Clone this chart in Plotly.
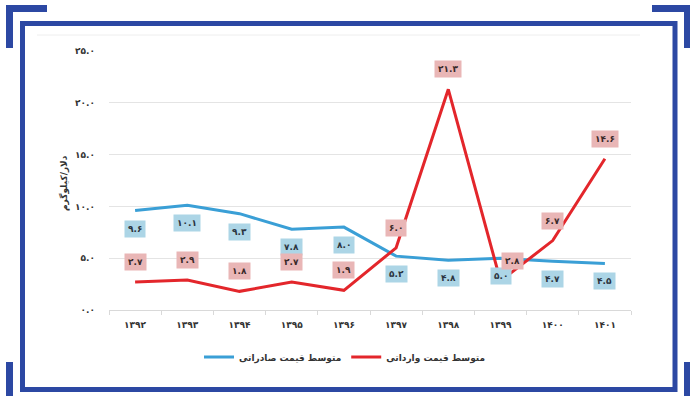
import plotly.graph_objects as go

# Persian year categories and average prices (USD per kg)
years = ["۱۳۹۲", "۱۳۹۳", "۱۳۹۴", "۱۳۹۵", "۱۳۹۶", "۱۳۹۷", "۱۳۹۸", "۱۳۹۹", "۱۴۰۰", "۱۴۰۱"]
export_price = [9.6, 10.1, 9.3, 7.8, 8.0, 5.2, 4.8, 5.0, 4.7, 4.5]
import_price = [2.7, 2.9, 1.8, 2.7, 1.9, 6.0, 21.3, 2.8, 6.7, 14.6]
y_ticks = [0, 5, 10, 15, 20, 25]
export_name = "متوسط قیمت صادراتی"
import_name = "متوسط قیمت وارداتی"
y_title = "دلار/کیلوگرم"

FA_DIGITS = str.maketrans("0123456789", "۰۱۲۳۴۵۶۷۸۹")


def fa(v):
    return f"{v:.1f}".translate(FA_DIGITS)


W, H = 690, 396
ML, MR, MT, MB = 109, 59, 51, 86
PW, PH = W - ML - MR, H - MT - MB


def px(x):
    return (x - ML) / PW


def py(y):
    return (H - MB - y) / PH


FONT = "DejaVu Sans"
BLUE = "#3a9fd6"
RED = "#e3262b"
NAVY = "#2c48a3"

fig = go.Figure()
fig.add_trace(go.Scatter(x=years, y=export_price, mode="lines", name=export_name,
                         line=dict(color=BLUE, width=3)))
fig.add_trace(go.Scatter(x=years, y=import_price, mode="lines", name=import_name,
                         line=dict(color=RED, width=3)))

annotations = []
for i, (yr, v) in enumerate(zip(years, export_price)):
    annotations.append(dict(x=yr, y=v, text=fa(v), showarrow=False, yshift=-18,
                            bgcolor="#acd5e6", borderpad=3,
                            font=dict(family=FONT, size=9, color="#2b3440", weight="bold")))
for i, (yr, v) in enumerate(zip(years, import_price)):
    xs = 12 if i == 7 else 0
    annotations.append(dict(x=yr, y=v, text=fa(v), showarrow=False, yshift=20, xshift=xs,
                            bgcolor="#e9b6b6", borderpad=3,
                            font=dict(family=FONT, size=9, color="#3a2a2a", weight="bold")))
annotations.append(dict(xref="paper", yref="paper", x=px(56), y=py(183), text=y_title,
                        textangle=-90, showarrow=False,
                        font=dict(family=FONT, size=9, color="#333333", weight="bold")))

shapes = []
# faint chart-area top edge
shapes.append(dict(type="line", xref="paper", yref="paper", x0=px(37), x1=px(640),
                   y0=py(35), y1=py(35), line=dict(color="#eeeeee", width=1)))
# main frame
shapes.append(dict(type="rect", xref="paper", yref="paper", x0=px(22.5), x1=px(675),
                   y0=py(23.5), y1=py(389.5), line=dict(color=NAVY, width=5)))
# corner brackets
for (x0, y0, x1, y1) in [(6, 5, 47, 12), (6, 5, 13, 48), (652, 5, 690, 12), (684, 5, 690, 48),
                         (6, 362, 13, 396), (684, 362, 690, 396)]:
    shapes.append(dict(type="rect", xref="paper", yref="paper", x0=px(x0), x1=px(x1),
                       y0=py(y0), y1=py(y1), line=dict(width=0), fillcolor=NAVY))

fig.update_layout(
    width=W, height=H,
    margin=dict(l=ML, r=MR, t=MT, b=MB),
    paper_bgcolor="white", plot_bgcolor="white",
    showlegend=True,
    legend=dict(orientation="h", x=px(345), xanchor="center", y=py(357), yanchor="middle",
                font=dict(family=FONT, size=9, color="#333333", weight="bold"),
                itemwidth=30, bgcolor="rgba(0,0,0,0)"),
    annotations=annotations,
    shapes=shapes,
    xaxis=dict(type="category", range=[-0.5, 9.5], showgrid=False, showline=True,
               linecolor="#d9d9d9", linewidth=1, ticks="outside", tickson="boundaries",
               ticklen=4, tickcolor="#d9d9d9", ticklabelstandoff=6,
               tickfont=dict(family=FONT, size=9, color="#333333", weight="bold")),
    yaxis=dict(range=[0, 25], tickvals=y_ticks, ticktext=[fa(v) for v in y_ticks],
               showgrid=True, gridcolor="#e4e4e4", gridwidth=1, zeroline=False,
               ticklabelstandoff=13,
               tickfont=dict(family=FONT, size=9, color="#333333", weight="bold")),
)

fig.write_html("out.html")
